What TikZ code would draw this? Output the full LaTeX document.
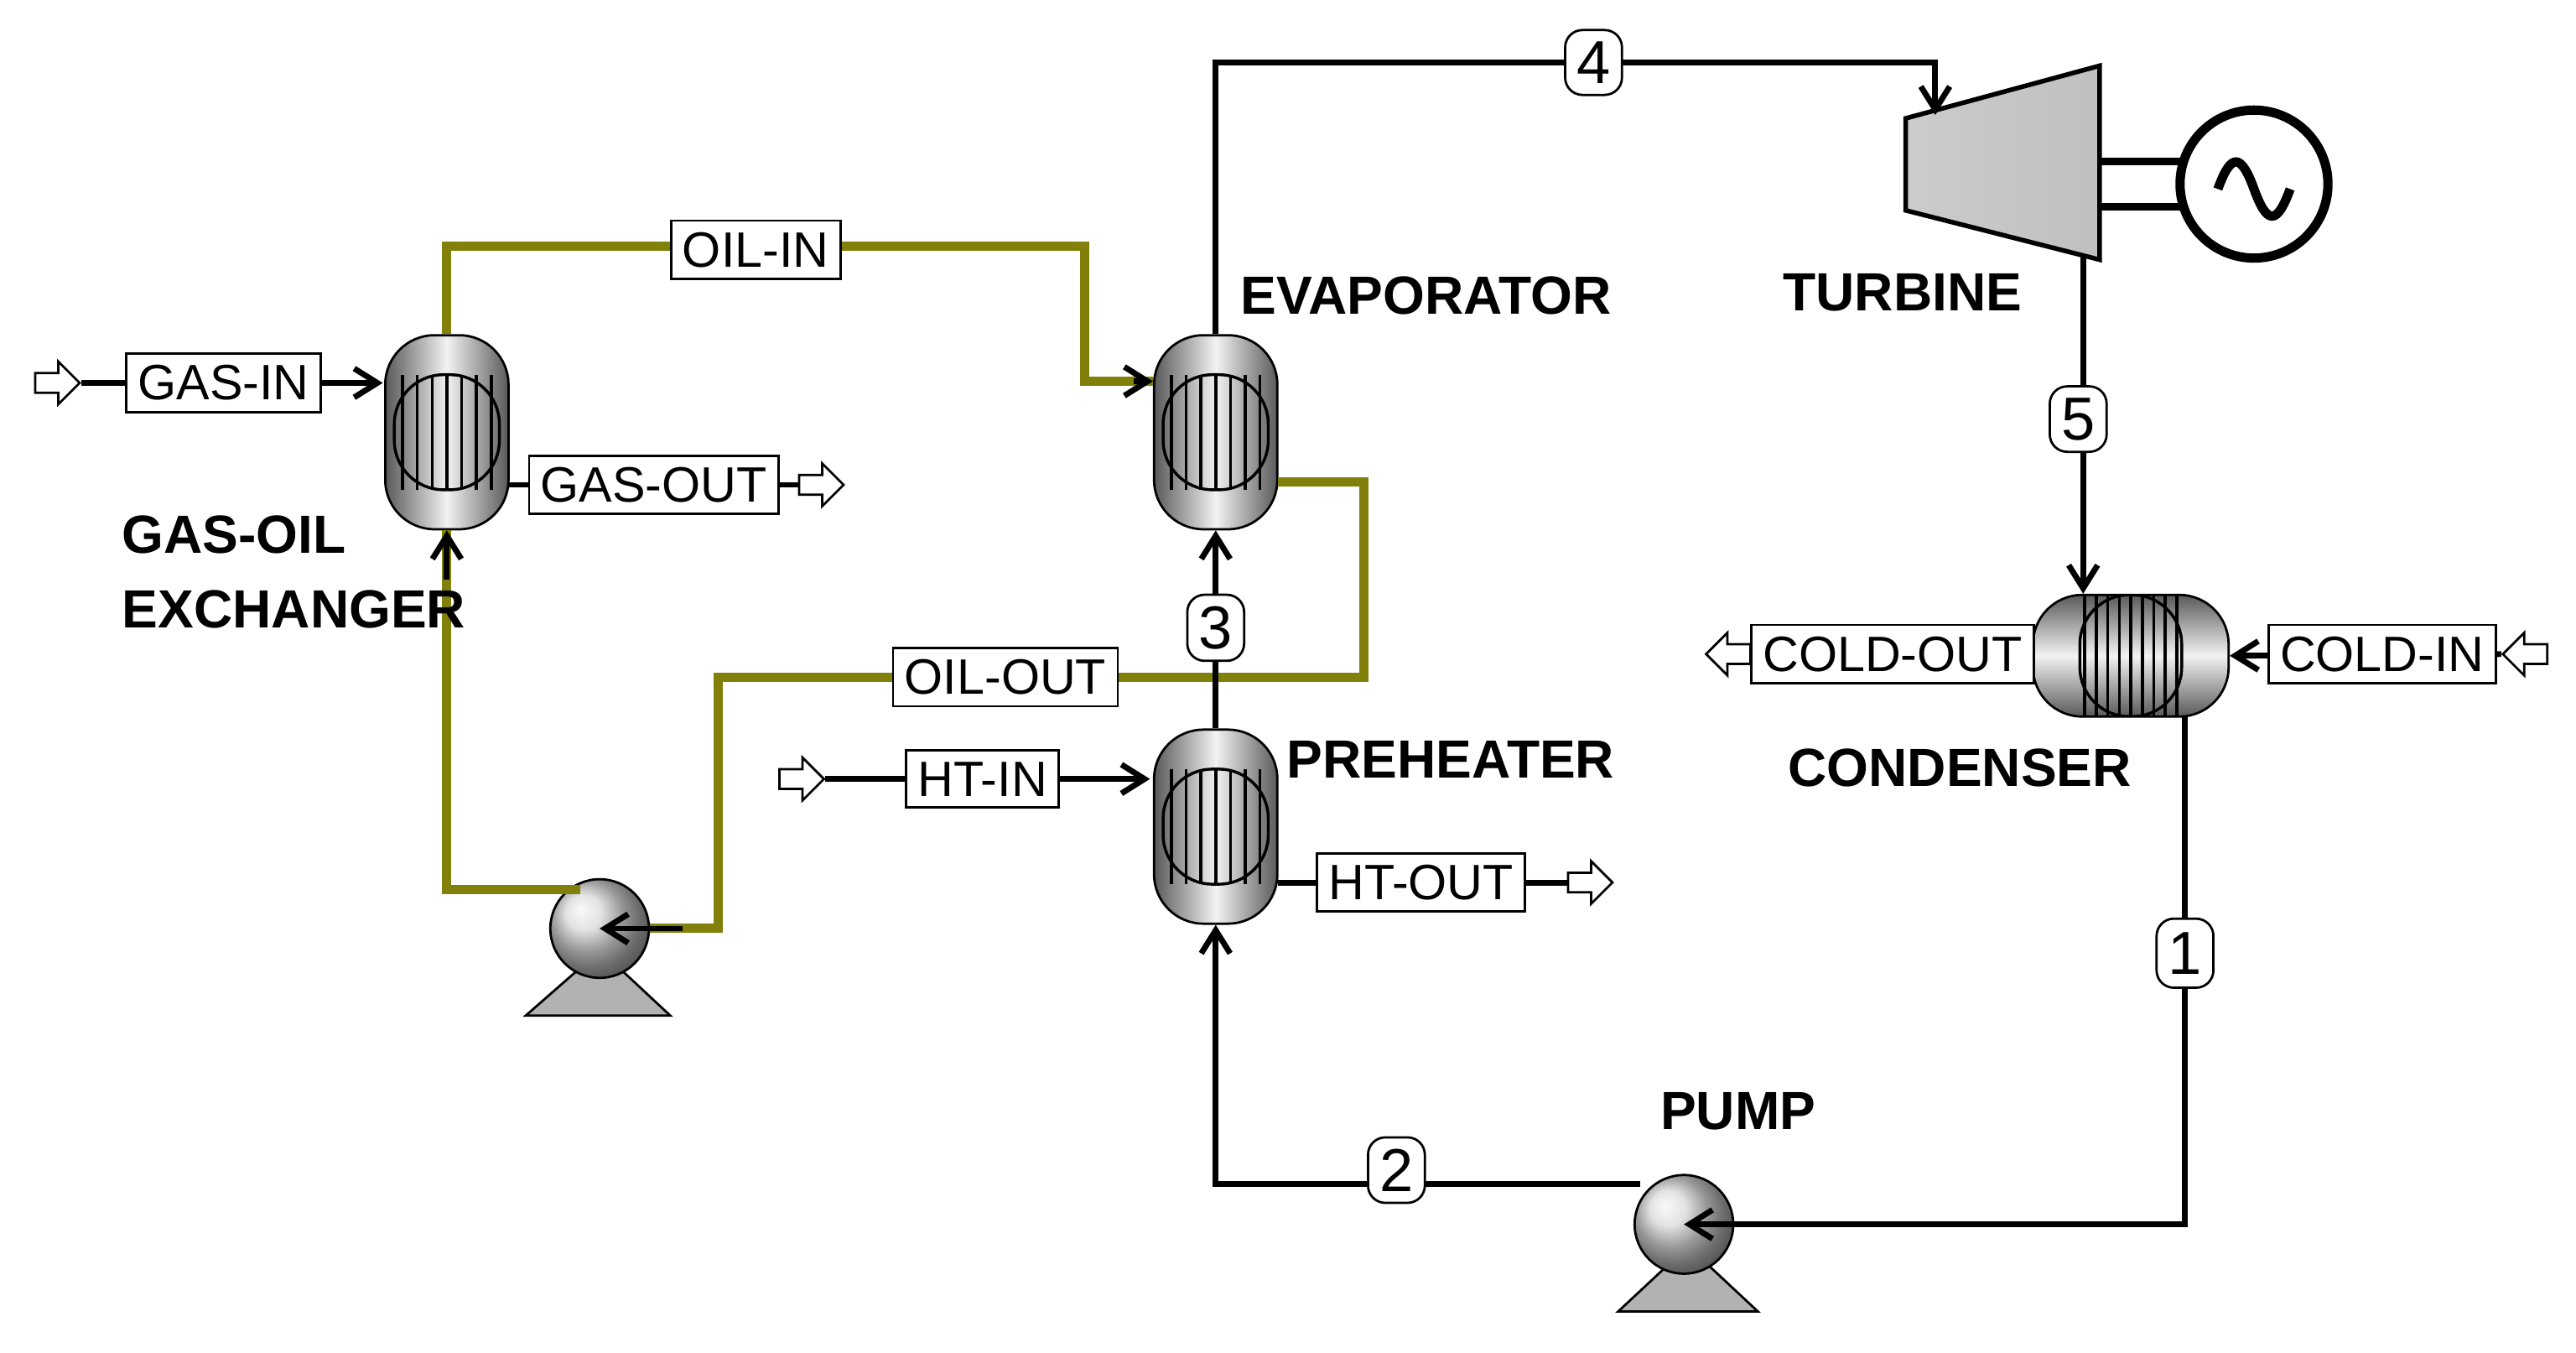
\documentclass[tikz,border=0pt]{standalone}
\usepackage{fontspec}
\setmainfont{Liberation Sans}
\usetikzlibrary{shapes.arrows,arrows.meta,calc}
\definecolor{oil}{RGB}{128,128,10}
\begin{document}
\begin{tikzpicture}[x=0.01cm,y=-0.01cm,
 lbl/.style={draw,fill=white,font=\fontsize{8.6}{10}\selectfont,inner sep=2pt,minimum height=0.3cm},
 num/.style={draw,fill=white,rounded corners=3pt,font=\fontsize{10.5}{12}\selectfont,inner sep=2pt,minimum width=0.3cm},
 title/.style={font=\bfseries\fontsize{9.3}{13}\selectfont,align=left},
 vessel/.style={draw,rectangle,minimum width=0.75cm,minimum height=1.18cm,rounded corners=0.3cm,
   left color=gray!70!black,right color=gray!70!black,middle color=gray!10,
   path picture={\foreach \i in {-3,...,3}{\draw[line width=0.5pt] ($(path picture bounding box.center)+(\i*9,-35)$)--++(0,70);}
   \draw[line width=0.5pt] ($(path picture bounding box.center)+(-32,-35)$) rectangle ($(path picture bounding box.center)+(32,35)$);}},
 hvessel/.style={draw,rectangle,minimum width=1.19cm,minimum height=0.74cm,rounded corners=0.3cm,
   top color=gray!70!black,bottom color=gray!70!black,middle color=gray!10,
   path picture={\foreach \i in {-4,...,4}{\draw[line width=0.5pt] ($(path picture bounding box.center)+(\i*7,-37)$)--++(0,74);}
   \draw[line width=0.5pt] ($(path picture bounding box.center)+(-31,-37)$) rectangle ($(path picture bounding box.center)+(31,37)$);}},
 pumpc/.style={draw,circle,minimum size=0.6cm,ball color=gray!30},
 base/.style={draw,fill=gray!60},
 opin/.style={draw,single arrow,fill=white,minimum height=0.27cm,single arrow head extend=2pt,inner sep=1.5pt,minimum width=0.2cm},
 st/.style={line width=1pt},
 ost/.style={line width=1.6pt,oil},
 ar/.style={-{Straight Barb[length=4pt,width=5pt]}}]
\useasboundingbox (0,0) rectangle (1568,823);
% equipment
\node[vessel] (gox) at (272,263) {};
\node[vessel] (evap) at (740,263) {};
\node[vessel] (pre) at (740,503) {};
\node[hvessel] (cond) at (1297,399) {};
\fill[left color=gray!40,right color=gray!50,draw=black,line width=0.8pt] (1160,72)--(1278,40)--(1278,158)--(1160,128)--cycle;
\node[draw,circle,minimum size=0.9cm,line width=1.6pt] (gen) at (1372,112) {};
\draw[line width=1.6pt] (gen.center)++(-22,3) .. controls +(8,-22) and +(-8,-22) .. ++(22,0) .. controls +(8,22) and +(-8,22) .. ++(22,0);
\draw[line width=1.3pt] (1278,98)--(1328,98) (1278,126)--(1330,126);
\coordinate (tin) at (1178,70); \coordinate (tout) at (1268,155);
\draw[base] (320,618)--(408,618)--(378,590)--(352,590)--cycle;
\node[pumpc] (p1) at (365,565) {};
\draw[base] (985,798)--(1070,798)--(1040,770)--(1015,770)--cycle;
\node[pumpc] (p2) at (1025,745) {};
% oil loop
\coordinate (a1) at (272,150); \coordinate (a2) at (660,150); \coordinate (a3) at (660,232);
\draw[ost] (gox.north)--(a1)--(a2)--(a3)--(a3-|evap.west);
\draw[ar,st] ($(a3)+(30,0)$)--(a3-|evap.west);
\node[lbl] (oilin) at (460,152) {OIL-IN};
\coordinate (b0) at (778,293); \coordinate (b1) at (830,293); \coordinate (b2) at (830,412); \coordinate (b3) at (437,412); \coordinate (b4) at (437,565);
\draw[ost] (b0)--(b1)--(b2)--(b3)--(b4)--(p1.east);
\draw[ar,st] ($(p1.east)+(20,0)$)--(p1.center);
\node[lbl] (oilout) at (612,412) {OIL-OUT};
\coordinate (c1) at (272,528);
\draw[ost] (p1.north west)++(10,-2) coordinate (c0) -- (c0-|c1)--(gox.south);
\draw[ar,st] ($(gox.south)+(0,30)$)--(gox.south);
% gas
\node[opin] (gin) at (32,233) {};
\draw[ar,st] (gin.east)--(233,233);
\node[lbl] (gasin) at (136,233) {GAS-IN};
\node[opin] (gout) at (497,295) {};
\draw[st] (310,295)--(gout.west);
\node[lbl] (gasout) at (398,295) {GAS-OUT};
% water loop
\coordinate (d1) at (740,38); \coordinate (d2) at (1178,38);
\draw[ar,st] (evap.north)--(d1)--(d2)--(tin);
\node[num] (n4) at (970,38) {4};
\draw[ar,st] (tout)--(tout|-cond.north);
\node[num] (n5) at (1265,255) {5};
\coordinate (e1) at (1330,745);
\draw[ar,st] (1330,436)--(e1)--(p2.center);
\node[num,minimum height=0.42cm] (n1) at (1330,580) {1};
\coordinate (f1) at (740,712);
\draw[ar,st] (p2.north west)++(-5,-3) coordinate (f0) -- (f0-|f1) -- (f1)--(pre.south);
\node[num] (n2) at (850,712) {2};
\draw[ar,st] (pre.north)--(evap.south);
\node[num] (n3) at (740,382) {3};
% HT
\node[opin] (hin) at (485,474) {};
\draw[ar,st] (hin.east)--(700,474);
\node[lbl] (htin) at (598,474) {HT-IN};
\node[opin] (hout) at (965,537) {};
\draw[st] (778,537)--(hout.west);
\node[lbl] (htout) at (865,537) {HT-OUT};
% cold
\node[opin,shape border rotate=180] (cin) at (1540,398) {};
\draw[ar,st] (cin.west)--(cond.east);
\node[lbl] (coldin) at (1450,398) {COLD-IN};
\node[opin,shape border rotate=180] (cout) at (1055,398) {};
\draw[st] (cond.west)--(cout.east);
\node[lbl] (coldout) at (1152,398) {COLD-OUT};
% titles
\node[title] (t1) at (868,180) {EVAPORATOR};
\node[title] (t2) at (1158,178) {TURBINE};
\node[title,anchor=west] (t3) at (62,348) {GAS-OIL\\EXCHANGER};
\node[title] (t4) at (883,462) {PREHEATER};
\node[title] (t5) at (1193,467) {CONDENSER};
\node[title] (t6) at (1058,676) {PUMP};
\end{tikzpicture}
\end{document}
